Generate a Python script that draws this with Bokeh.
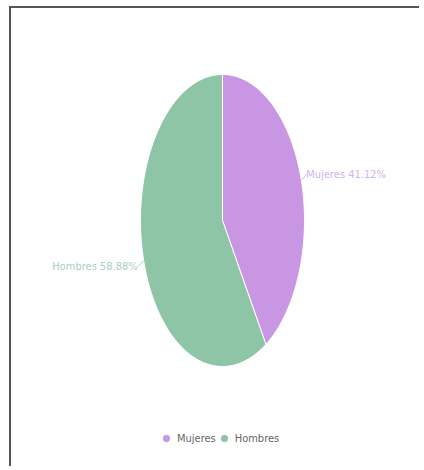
import math
from bokeh.plotting import figure
from bokeh.models import Range1d, Legend, LegendItem, ColumnDataSource
from bokeh.core.properties import value
from bokeh.embed import file_html
from bokeh.resources import INLINE

categories = ["Mujeres", "Hombres"]
percents = [41.12, 58.88]
colors = ["#c996e4", "#8fc5a7"]
label_colors = ["#d3b3ea", "#abcfbb"]

FONT = "'Liberation Sans Narrow', 'Arial Narrow', 'DejaVu Sans Condensed', Roboto, sans-serif"

W, H = 410, 460
CX, CY = 211, 212      # pie centre within the figure (pixels from left / top)
RX, RY = 82, 146       # pie radii in pixels (stretched ellipse)

p = figure(width=W, height=H, output_backend="svg", toolbar_location=None,
           x_range=Range1d(-CX / RX, (W - CX) / RX),
           y_range=Range1d(-(H - CY) / RY, CY / RY),
           min_border=0)
p.axis.visible = False
p.grid.visible = False
p.outline_line_color = None
p.background_fill_color = "white"
p.border_fill_color = "white"
p.styles = {"border-top": "2px solid #555", "border-left": "2px solid #555",
            "margin-left": "9px", "margin-top": "6px"}

total = sum(percents)
xs, ys = [], []
mids = []
start = 0.0
for v in percents:
    frac = v / total
    end = start + frac
    n = max(4, int(frac * 200))
    px, py = [0.0], [0.0]
    for i in range(n + 1):
        t = start + (end - start) * i / n
        a = math.pi / 2 - 2 * math.pi * t
        px.append(math.cos(a))
        py.append(math.sin(a))
    xs.append(px)
    ys.append(py)
    mids.append(math.pi / 2 - 2 * math.pi * (start + end) / 2)
    start = end

p.patches(xs=xs, ys=ys, fill_color=colors, line_color="white", line_width=1)

# label leader lines and labels
lx0, ly0, lx1, ly1 = [], [], [], []
tx, ty, texts, aligns, tcols = [], [], [], [], []
for cat, v, m, c in zip(categories, percents, mids, label_colors):
    x0, y0 = math.cos(m), math.sin(m)
    dx = 5 if x0 >= 0 else -6
    dy = 6 if x0 >= 0 else -6
    x1, y1 = x0 + dx / RX, y0 + dy / RY
    lx0.append(x0); ly0.append(y0); lx1.append(x1); ly1.append(y1)
    tx.append(x1); ty.append(y1)
    texts.append(f"{cat} {v:.2f}%")
    aligns.append("left" if x0 >= 0 else "right")
    tcols.append(c)

p.segment(x0=lx0, y0=ly0, x1=lx1, y1=ly1, line_color=label_colors, line_width=1)
src = ColumnDataSource(dict(x=tx, y=ty, t=texts, a=aligns, c=tcols))
p.text(x="x", y="y", text="t", text_align="a", text_color="c", source=src,
       text_baseline="alphabetic", text_font=value(FONT), text_font_size="11px",
       x_offset=0, y_offset=0)

# legend (marker renderers sit outside the visible ranges)
items = []
for cat, c in zip(categories, colors):
    r = p.scatter(x=[100], y=[100], marker="circle", size=10, fill_color=c, line_color=c)
    items.append(LegendItem(label=cat, renderers=[r]))
legend = Legend(items=items, orientation="horizontal", location=(147, 20),
                border_line_color=None, background_fill_alpha=0,
                glyph_width=16, glyph_height=20, label_standoff=3, spacing=0,
                padding=0, margin=0, label_text_font=FONT,
                label_text_font_size="11px", label_text_color="#666666")
p.add_layout(legend)

open("out.html", "w").write(file_html(p, INLINE))
